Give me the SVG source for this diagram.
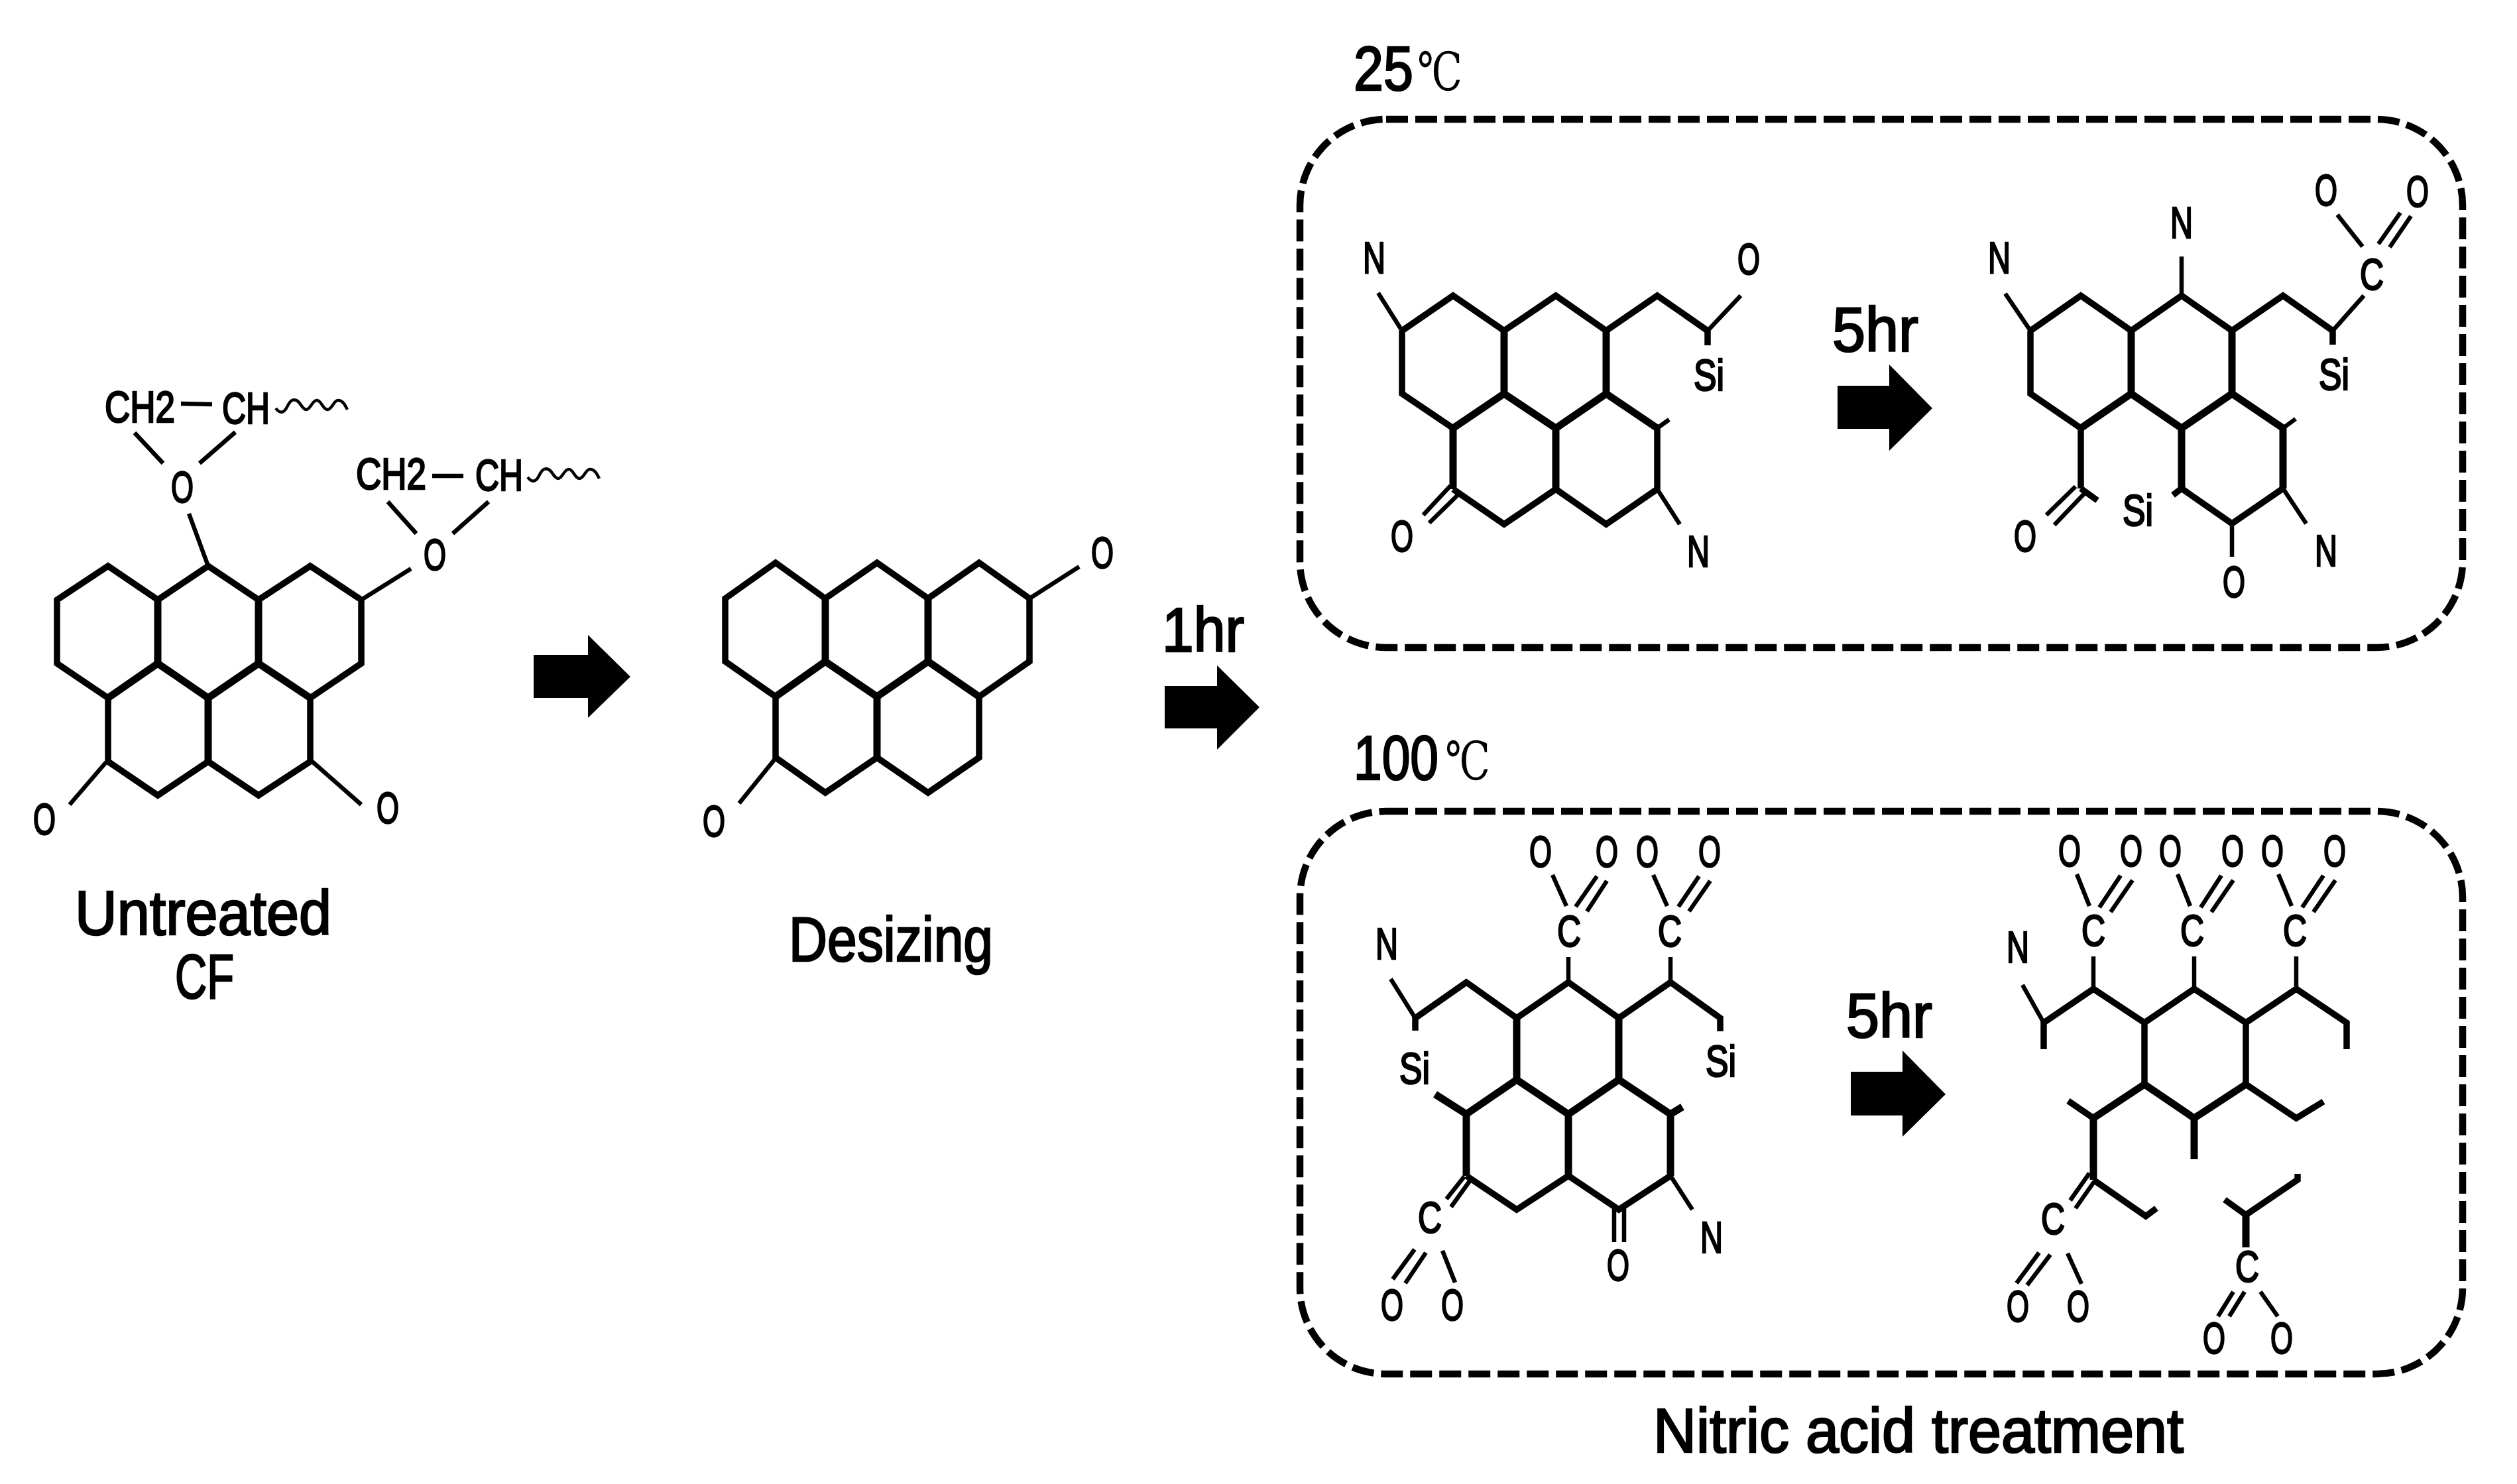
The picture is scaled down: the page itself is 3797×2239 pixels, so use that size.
<svg xmlns="http://www.w3.org/2000/svg" xmlns:xlink="http://www.w3.org/1999/xlink" width="3797" height="2239" viewBox="0 0 3797 2239">
<style>
.r{fill:none;stroke:#000;stroke-width:9.5;stroke-linejoin:miter}
.b{fill:none;stroke:#000;stroke-width:11;stroke-linejoin:miter}
.s{fill:none;stroke:#000;stroke-width:6.5}
.w{fill:none;stroke:#000;stroke-width:4.5}
.box{fill:none;stroke:#000;stroke-width:10.5;stroke-dasharray:33 11}
.t{font-family:"Liberation Sans Narrow","Liberation Sans",sans-serif;font-size:66px;text-anchor:middle;fill:#000;stroke:#000;stroke-width:2.6}
.l{font-family:"Liberation Sans Narrow","Liberation Sans",sans-serif;font-size:94px;text-anchor:start;fill:#000;stroke:#000;stroke-width:2.6}
.d{font-family:"Liberation Serif","DejaVu Serif",serif;font-size:80px;fill:#000}
.a{fill:#000}
</style>
<defs>
<path id="wave" class="w" d="M0 14c6 8 12 8 17 -2s8 -12 14 -10s9 14 15 14s9 -14 16 -14s9 14 16 14s9 -14 16 -14s10 6 14 14"/>
</defs>
<rect width="3797" height="2239" fill="#fff"/>

<g id="connectors">
<polygon class="a" points="805,988 887,988 887,958 951,1021 887,1083 887,1053 805,1053"/>
<polygon class="a" points="1757,1035 1836,1035 1836,1004 1900,1067 1836,1131 1836,1099 1757,1099"/>
<polygon class="a" points="2772,582 2850,582 2850,550 2915,616 2850,680 2850,647 2772,647"/>
<polygon class="a" points="2792,1617 2870,1617 2870,1585 2935,1651 2870,1715 2870,1683 2792,1683"/>
</g>

<g id="untreated-cf">
<path class="r" d="M86 905L163 854L238 905L314 854L390 905L468 854L545 905V1001L468 1053V1149L390 1200L314 1149L238 1200L163 1149V1053L86 1001Z"/>
<path class="b" d="M238 905V1001L314 1053L390 1001V905M163 1053L238 1001M390 1001L468 1053M314 1053V1149"/>
<path class="s" d="M314 854L285 775M545 905L620 858M160 1150L105 1214M471 1149L545 1214M203 653L246 699M355 652L301 699M585 757L628 805M737 757L683 805M273 609L320 610M652 718L699 718"/>
<use xlink:href="#wave" href="#wave" x="416" y="602"/>
<use xlink:href="#wave" href="#wave" x="796" y="706"/>
<text class="t" x="211" y="637" textLength="106" lengthAdjust="spacingAndGlyphs">CH2</text>
<text class="t" x="371" y="639" textLength="72" lengthAdjust="spacingAndGlyphs">CH</text>
<text class="t" x="275" y="758" textLength="34" lengthAdjust="spacingAndGlyphs">O</text>
<text class="t" x="590" y="738" textLength="106" lengthAdjust="spacingAndGlyphs">CH2</text>
<text class="t" x="753" y="740" textLength="72" lengthAdjust="spacingAndGlyphs">CH</text>
<text class="t" x="656" y="860" textLength="34" lengthAdjust="spacingAndGlyphs">O</text>
<text class="t" x="67" y="1259" textLength="34" lengthAdjust="spacingAndGlyphs">O</text>
<text class="t" x="585" y="1242" textLength="34" lengthAdjust="spacingAndGlyphs">O</text>
<text class="l" x="113" y="1410" textLength="387" lengthAdjust="spacingAndGlyphs">Untreated</text>
<text class="l" x="264" y="1506" textLength="89" lengthAdjust="spacingAndGlyphs">CF</text>
</g>

<g id="desizing">
<path class="r" d="M1094 903L1170 849L1245 903L1323 849L1400 903L1477 849L1553 903V998L1477 1051V1143L1400 1196L1323 1143L1245 1196L1170 1143V1051L1094 998Z"/>
<path class="b" d="M1245 903V998L1323 1051L1400 998V903M1170 1051L1245 998M1400 998L1477 1051M1323 1051V1143"/>
<path class="s" d="M1553 903L1628 855M1170 1144L1115 1212"/>
<text class="t" x="1663" y="857" textLength="34" lengthAdjust="spacingAndGlyphs">O</text>
<text class="t" x="1077" y="1262" textLength="34" lengthAdjust="spacingAndGlyphs">O</text>
<text class="l" x="1190" y="1450" textLength="308" lengthAdjust="spacingAndGlyphs">Desizing</text>
<text class="l" x="1753" y="983" textLength="124" lengthAdjust="spacingAndGlyphs">1hr</text>
</g>

<g id="box-25">
<rect class="box" x="1961" y="180" width="1754" height="797" rx="130" ry="130"/>
<text class="l" x="2042" y="136" textLength="90" lengthAdjust="spacingAndGlyphs">25</text>
<text class="d" x="2138" y="136" textLength="68" lengthAdjust="spacingAndGlyphs">℃</text>
<text class="l" x="2764" y="530" textLength="130" lengthAdjust="spacingAndGlyphs">5hr</text>
</g>

<g id="mol-25-1h">
<path class="r" d="M2115 499L2192 446L2269 499L2347 446L2423 499L2500 446L2576 499M2115 499V594L2192 646L2269 594M2192 738L2269 791L2347 738L2423 791L2500 738V646"/>
<path class="b" d="M2269 499V594L2347 646L2423 594V499M2192 646L2269 594M2423 594L2500 646M2192 646V738M2347 646V738"/>
<path class="s" d="M2115 499L2079 442M2576 499L2626 446M2500 646L2518 633M2500 738L2534 791"/>
<path class="r" d="M2576 499V521"/>
<path class="s" d="M2188 733L2147 777M2200 746L2156 789"/>
<text class="t" x="2073" y="412" textLength="34" lengthAdjust="spacingAndGlyphs">N</text>
<text class="t" x="2638" y="414" textLength="34" lengthAdjust="spacingAndGlyphs">O</text>
<text class="t" x="2578" y="589" textLength="46" lengthAdjust="spacingAndGlyphs">Si</text>
<text class="t" x="2115" y="832" textLength="34" lengthAdjust="spacingAndGlyphs">O</text>
<text class="t" x="2562" y="855" textLength="34" lengthAdjust="spacingAndGlyphs">N</text>
</g>

<g id="mol-25-5h">
<path class="r" d="M3063 499L3139 446L3215 499L3291 446L3367 499L3444 446L3519 499M3063 499V594L3139 646L3215 594M3139 646V737M3278 747L3291 737M3291 737L3367 790L3444 737"/>
<path class="b" d="M3215 499V594L3291 646L3367 594V499M3291 646V737M3444 737V646L3367 594M3139 646L3215 594"/>
<path class="s" d="M3063 499L3025 443M3291 446V387M3519 499L3566 446M3564 372L3526 324M3588 368L3621 321M3605 373L3637 326M3444 737L3479 790M3367 790V840M3444 646L3463 632M3131 734L3087 777M3144 745L3099 792"/>
<path class="r" d="M3519 499V520M3139 737L3164 755"/>
<text class="t" x="3016" y="412" textLength="34" lengthAdjust="spacingAndGlyphs">N</text>
<text class="t" x="3291" y="359" textLength="34" lengthAdjust="spacingAndGlyphs">N</text>
<text class="t" x="3578" y="437" textLength="36" lengthAdjust="spacingAndGlyphs">C</text>
<text class="t" x="3509" y="310" textLength="34" lengthAdjust="spacingAndGlyphs">O</text>
<text class="t" x="3647" y="312" textLength="34" lengthAdjust="spacingAndGlyphs">O</text>
<text class="t" x="3521" y="588" textLength="46" lengthAdjust="spacingAndGlyphs">Si</text>
<text class="t" x="3225" y="793" textLength="46" lengthAdjust="spacingAndGlyphs">Si</text>
<text class="t" x="3055" y="832" textLength="34" lengthAdjust="spacingAndGlyphs">O</text>
<text class="t" x="3370" y="901" textLength="34" lengthAdjust="spacingAndGlyphs">O</text>
<text class="t" x="3509" y="854" textLength="34" lengthAdjust="spacingAndGlyphs">N</text>
</g>

<g id="box-100">
<rect class="box" x="1961" y="1224" width="1754" height="849" rx="130" ry="130"/>
<text class="l" x="2042" y="1176" textLength="128" lengthAdjust="spacingAndGlyphs">100</text>
<text class="d" x="2180" y="1176" textLength="68" lengthAdjust="spacingAndGlyphs">℃</text>
<text class="l" x="2785" y="1565" textLength="130" lengthAdjust="spacingAndGlyphs">5hr</text>
<text class="l" x="2494" y="2191" textLength="800" lengthAdjust="spacingAndGlyphs">Nitric acid treatment</text>
</g>

<g id="mol-100-1h">
<path class="r" d="M2135 1555V1536L2212 1482L2288 1536L2366 1482L2442 1536L2520 1482L2595 1536V1556M2212 1774L2288 1825L2366 1774L2442 1825L2520 1774"/>
<path class="b" d="M2288 1536V1629L2366 1681L2442 1629V1536M2165 1651L2212 1681L2288 1629M2442 1629L2520 1681M2212 1681V1774M2366 1681V1774M2520 1681V1774M2520 1681L2538 1670"/>
<path class="s" d="M2135 1536L2098 1477M2366 1482V1444M2363 1367L2342 1320M2377 1368L2409 1322M2394 1375L2424 1329M2520 1482V1444M2515 1367L2494 1320M2532 1368L2563 1322M2548 1375L2580 1329M2209 1775L2182 1809M2217 1782L2189 1821M2134 1885L2101 1930M2151 1890L2120 1936M2176 1887L2195 1935M2435 1823V1874M2450 1823V1874M2520 1774L2553 1825"/>
<text class="t" x="2092" y="1447" textLength="34" lengthAdjust="spacingAndGlyphs">N</text>
<text class="t" x="2134" y="1635" textLength="46" lengthAdjust="spacingAndGlyphs">Si</text>
<text class="t" x="2596" y="1624" textLength="46" lengthAdjust="spacingAndGlyphs">Si</text>
<text class="t" x="2367" y="1428" textLength="36" lengthAdjust="spacingAndGlyphs">C</text>
<text class="t" x="2519" y="1428" textLength="36" lengthAdjust="spacingAndGlyphs">C</text>
<text class="t" x="2324" y="1308" textLength="34" lengthAdjust="spacingAndGlyphs">O</text>
<text class="t" x="2424" y="1308" textLength="34" lengthAdjust="spacingAndGlyphs">O</text>
<text class="t" x="2485" y="1308" textLength="34" lengthAdjust="spacingAndGlyphs">O</text>
<text class="t" x="2579" y="1308" textLength="34" lengthAdjust="spacingAndGlyphs">O</text>
<text class="t" x="2157" y="1860" textLength="36" lengthAdjust="spacingAndGlyphs">C</text>
<text class="t" x="2100" y="1992" textLength="34" lengthAdjust="spacingAndGlyphs">O</text>
<text class="t" x="2191" y="1992" textLength="34" lengthAdjust="spacingAndGlyphs">O</text>
<text class="t" x="2441" y="1932" textLength="34" lengthAdjust="spacingAndGlyphs">O</text>
<text class="t" x="2582" y="1890" textLength="34" lengthAdjust="spacingAndGlyphs">N</text>
</g>

<g id="mol-100-5h">
<path class="r" d="M3083 1583V1543L3158 1492L3235 1543L3310 1492L3388 1543L3464 1492L3540 1543V1583M3235 1543V1636M3388 1543V1636M3388 1636L3464 1687L3505 1662M3120 1661L3158 1687M3158 1780L3237 1835L3253 1823M3356 1810L3388 1833L3466 1780V1771"/>
<path class="b" d="M3158 1687L3235 1636L3310 1687L3388 1636M3310 1687V1749M3158 1687V1780M3388 1833V1882"/>
<path class="s" d="M3083 1543L3051 1486M3158 1492V1443M3152 1367L3133 1319M3167 1369L3199 1321M3184 1376L3217 1328M3310 1492V1443M3304 1367L3285 1319M3320 1369L3351 1321M3336 1376L3369 1328M3464 1492V1443M3457 1367L3437 1319M3473 1369L3505 1321M3490 1376L3523 1328M3152 1770L3123 1811M3159 1783L3131 1823M3076 1890L3042 1936M3093 1893L3058 1939M3119 1891L3140 1937M3369 1949L3346 1986M3386 1949L3363 1986M3410 1949L3436 1986"/>
<text class="t" x="3044" y="1452" textLength="34" lengthAdjust="spacingAndGlyphs">N</text>
<text class="t" x="3158" y="1427" textLength="36" lengthAdjust="spacingAndGlyphs">C</text>
<text class="t" x="3307" y="1427" textLength="36" lengthAdjust="spacingAndGlyphs">C</text>
<text class="t" x="3462" y="1427" textLength="36" lengthAdjust="spacingAndGlyphs">C</text>
<text class="t" x="3122" y="1307" textLength="34" lengthAdjust="spacingAndGlyphs">O</text>
<text class="t" x="3215" y="1307" textLength="34" lengthAdjust="spacingAndGlyphs">O</text>
<text class="t" x="3274" y="1307" textLength="34" lengthAdjust="spacingAndGlyphs">O</text>
<text class="t" x="3368" y="1307" textLength="34" lengthAdjust="spacingAndGlyphs">O</text>
<text class="t" x="3428" y="1307" textLength="34" lengthAdjust="spacingAndGlyphs">O</text>
<text class="t" x="3522" y="1307" textLength="34" lengthAdjust="spacingAndGlyphs">O</text>
<text class="t" x="3097" y="1862" textLength="36" lengthAdjust="spacingAndGlyphs">C</text>
<text class="t" x="3044" y="1994" textLength="34" lengthAdjust="spacingAndGlyphs">O</text>
<text class="t" x="3135" y="1994" textLength="34" lengthAdjust="spacingAndGlyphs">O</text>
<text class="t" x="3390" y="1934" textLength="36" lengthAdjust="spacingAndGlyphs">C</text>
<text class="t" x="3340" y="2042" textLength="34" lengthAdjust="spacingAndGlyphs">O</text>
<text class="t" x="3442" y="2042" textLength="34" lengthAdjust="spacingAndGlyphs">O</text>
</g>
</svg>
